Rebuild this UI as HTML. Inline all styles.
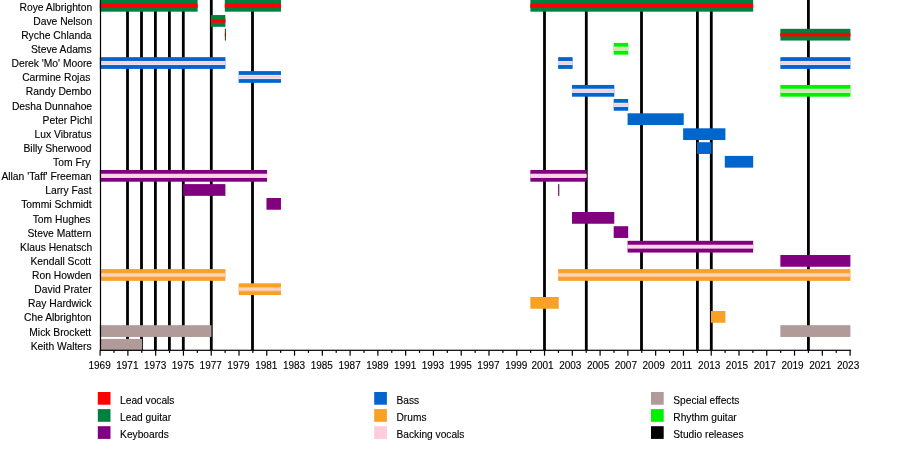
<!DOCTYPE html><html><head><meta charset="utf-8"><style>html,body{margin:0;padding:0;background:#fff;width:900px;height:450px;overflow:hidden}svg{display:block;will-change:transform}text{font-family:"Liberation Sans",sans-serif;font-size:10px;fill:#000;stroke:#000;stroke-width:0.12px}</style></head><body>
<svg width="900" height="450" viewBox="0 0 900 450">
<rect x="0" y="0" width="900" height="450" fill="#fff"/>
<rect x="126.10" y="0" width="2.8" height="350.30" fill="#000"/>
<rect x="140.10" y="0" width="2.8" height="350.30" fill="#000"/>
<rect x="154.00" y="0" width="2.8" height="350.30" fill="#000"/>
<rect x="168.00" y="0" width="2.8" height="350.30" fill="#000"/>
<rect x="181.90" y="0" width="2.8" height="350.30" fill="#000"/>
<rect x="209.90" y="0" width="2.8" height="350.30" fill="#000"/>
<rect x="251.10" y="0" width="2.8" height="350.30" fill="#000"/>
<rect x="543.10" y="0" width="2.8" height="350.30" fill="#000"/>
<rect x="584.90" y="0" width="2.8" height="350.30" fill="#000"/>
<rect x="640.10" y="0" width="2.8" height="350.30" fill="#000"/>
<rect x="696.00" y="0" width="2.8" height="350.30" fill="#000"/>
<rect x="709.90" y="0" width="2.8" height="350.30" fill="#000"/>
<rect x="807.00" y="0" width="2.8" height="350.30" fill="#000"/>
<rect x="99.80" y="0.00" width="97.82" height="11.67" fill="#00803f"/>
<rect x="99.80" y="3.73" width="97.82" height="4.2" fill="#ff0000"/>
<rect x="224.80" y="0.00" width="56.16" height="11.67" fill="#00803f"/>
<rect x="224.80" y="3.73" width="56.16" height="4.2" fill="#ff0000"/>
<rect x="530.36" y="0.00" width="222.82" height="11.67" fill="#00803f"/>
<rect x="530.36" y="3.73" width="222.82" height="4.2" fill="#ff0000"/>
<rect x="210.91" y="15.05" width="14.49" height="11.75" fill="#00803f"/>
<rect x="210.91" y="19.12" width="14.49" height="3.6" fill="#ff0000"/>
<rect x="224.85" y="28.80" width="1.10" height="11.75" fill="#006030"/>
<rect x="224.85" y="32.88" width="1.10" height="3.6" fill="#c00000"/>
<rect x="780.36" y="28.80" width="70.04" height="11.75" fill="#00803f"/>
<rect x="780.36" y="32.88" width="70.04" height="3.6" fill="#ff0000"/>
<rect x="613.69" y="42.90" width="14.49" height="11.75" fill="#00f000"/>
<rect x="613.69" y="46.67" width="14.49" height="4.2" fill="#c8ffb8"/>
<rect x="613.69" y="47.67" width="14.49" height="2.2" fill="#ead8b8"/>
<rect x="99.80" y="57.15" width="125.60" height="11.75" fill="#0066cc"/>
<rect x="99.80" y="61.02" width="125.60" height="4.0" fill="#e2e6fb"/>
<rect x="99.80" y="61.92" width="125.60" height="2.2" fill="#f8d0dc"/>
<rect x="558.13" y="57.15" width="14.49" height="11.75" fill="#0066cc"/>
<rect x="558.13" y="61.02" width="14.49" height="4.0" fill="#e2e6fb"/>
<rect x="558.13" y="61.92" width="14.49" height="2.2" fill="#f8d0dc"/>
<rect x="780.36" y="57.15" width="70.04" height="11.75" fill="#0066cc"/>
<rect x="780.36" y="61.02" width="70.04" height="4.0" fill="#e2e6fb"/>
<rect x="780.36" y="61.92" width="70.04" height="2.2" fill="#f8d0dc"/>
<rect x="238.69" y="71.10" width="42.27" height="11.75" fill="#0066cc"/>
<rect x="238.69" y="74.88" width="42.27" height="4.2" fill="#e2e6fb"/>
<rect x="238.69" y="75.88" width="42.27" height="2.2" fill="#f8d0dc"/>
<rect x="572.02" y="84.95" width="42.27" height="11.75" fill="#0066cc"/>
<rect x="572.02" y="88.73" width="42.27" height="4.2" fill="#e2e6fb"/>
<rect x="572.02" y="89.73" width="42.27" height="2.2" fill="#f8d0dc"/>
<rect x="780.36" y="84.95" width="70.04" height="11.75" fill="#00f000"/>
<rect x="780.36" y="88.73" width="70.04" height="4.2" fill="#c8ffb8"/>
<rect x="780.36" y="89.73" width="70.04" height="2.2" fill="#ead8b8"/>
<rect x="613.69" y="99.00" width="14.49" height="11.75" fill="#0066cc"/>
<rect x="613.69" y="102.78" width="14.49" height="4.2" fill="#e2e6fb"/>
<rect x="613.69" y="103.78" width="14.49" height="2.2" fill="#f8d0dc"/>
<rect x="627.58" y="113.30" width="56.16" height="11.75" fill="#0066cc"/>
<rect x="683.13" y="128.30" width="42.27" height="11.75" fill="#0066cc"/>
<rect x="697.02" y="142.20" width="14.49" height="11.75" fill="#0066cc"/>
<rect x="724.80" y="155.90" width="28.38" height="11.75" fill="#0066cc"/>
<rect x="99.80" y="169.96" width="167.27" height="11.75" fill="#800080"/>
<rect x="99.80" y="173.74" width="167.27" height="4.2" fill="#ffd2f5"/>
<rect x="99.80" y="174.74" width="167.27" height="2.2" fill="#ffd4e2"/>
<rect x="530.36" y="169.96" width="56.16" height="11.75" fill="#800080"/>
<rect x="530.36" y="173.74" width="56.16" height="4.2" fill="#ffd2f5"/>
<rect x="530.36" y="174.74" width="56.16" height="2.2" fill="#ffd4e2"/>
<rect x="183.13" y="184.10" width="42.27" height="11.75" fill="#800080"/>
<rect x="558.18" y="184.10" width="1.10" height="11.75" fill="#5c005c"/>
<rect x="266.47" y="198.00" width="14.49" height="11.75" fill="#800080"/>
<rect x="572.02" y="212.00" width="42.27" height="11.75" fill="#800080"/>
<rect x="613.69" y="226.20" width="14.49" height="11.75" fill="#800080"/>
<rect x="627.58" y="240.80" width="125.60" height="11.75" fill="#800080"/>
<rect x="627.58" y="244.73" width="125.60" height="3.9" fill="#ffd2f5"/>
<rect x="627.58" y="245.58" width="125.60" height="2.2" fill="#ffd4e2"/>
<rect x="780.36" y="255.00" width="70.04" height="11.75" fill="#800080"/>
<rect x="99.80" y="269.10" width="125.60" height="11.75" fill="#f9a027"/>
<rect x="99.80" y="272.88" width="125.60" height="4.2" fill="#fbc48c"/>
<rect x="99.80" y="273.88" width="125.60" height="2.2" fill="#ffd2c6"/>
<rect x="558.13" y="269.10" width="292.27" height="11.75" fill="#f9a027"/>
<rect x="558.13" y="272.88" width="292.27" height="4.2" fill="#fbc48c"/>
<rect x="558.13" y="273.88" width="292.27" height="2.2" fill="#ffd2c6"/>
<rect x="238.69" y="283.30" width="42.27" height="11.75" fill="#f9a027"/>
<rect x="238.69" y="287.07" width="42.27" height="4.2" fill="#fbc48c"/>
<rect x="238.69" y="288.07" width="42.27" height="2.2" fill="#ffd2c6"/>
<rect x="530.36" y="297.00" width="28.38" height="11.75" fill="#f9a027"/>
<rect x="710.91" y="311.00" width="14.49" height="11.75" fill="#f9a027"/>
<rect x="99.80" y="325.20" width="111.71" height="11.75" fill="#b09a9a"/>
<rect x="780.36" y="325.20" width="70.04" height="11.75" fill="#b09a9a"/>
<rect x="99.80" y="338.90" width="42.27" height="11.75" fill="#b09a9a"/>
<rect x="99.9" y="0" width="1.2" height="350.90" fill="#000"/>
<rect x="99.9" y="349.70" width="751.20" height="1.2" fill="#000"/>
<rect x="99.50" y="350.30" width="1.2" height="5.4" fill="#000"/>
<text x="99.60" y="369" text-anchor="middle">1969</text>
<rect x="113.39" y="350.30" width="1.2" height="2.6" fill="#000"/>
<rect x="127.28" y="350.30" width="1.2" height="5.4" fill="#000"/>
<text x="127.38" y="369" text-anchor="middle">1971</text>
<rect x="141.17" y="350.30" width="1.2" height="2.6" fill="#000"/>
<rect x="155.06" y="350.30" width="1.2" height="5.4" fill="#000"/>
<text x="155.16" y="369" text-anchor="middle">1973</text>
<rect x="168.94" y="350.30" width="1.2" height="2.6" fill="#000"/>
<rect x="182.83" y="350.30" width="1.2" height="5.4" fill="#000"/>
<text x="182.93" y="369" text-anchor="middle">1975</text>
<rect x="196.72" y="350.30" width="1.2" height="2.6" fill="#000"/>
<rect x="210.61" y="350.30" width="1.2" height="5.4" fill="#000"/>
<text x="210.71" y="369" text-anchor="middle">1977</text>
<rect x="224.50" y="350.30" width="1.2" height="2.6" fill="#000"/>
<rect x="238.39" y="350.30" width="1.2" height="5.4" fill="#000"/>
<text x="238.49" y="369" text-anchor="middle">1979</text>
<rect x="252.28" y="350.30" width="1.2" height="2.6" fill="#000"/>
<rect x="266.17" y="350.30" width="1.2" height="5.4" fill="#000"/>
<text x="266.27" y="369" text-anchor="middle">1981</text>
<rect x="280.06" y="350.30" width="1.2" height="2.6" fill="#000"/>
<rect x="293.94" y="350.30" width="1.2" height="5.4" fill="#000"/>
<text x="294.04" y="369" text-anchor="middle">1983</text>
<rect x="307.83" y="350.30" width="1.2" height="2.6" fill="#000"/>
<rect x="321.72" y="350.30" width="1.2" height="5.4" fill="#000"/>
<text x="321.82" y="369" text-anchor="middle">1985</text>
<rect x="335.61" y="350.30" width="1.2" height="2.6" fill="#000"/>
<rect x="349.50" y="350.30" width="1.2" height="5.4" fill="#000"/>
<text x="349.60" y="369" text-anchor="middle">1987</text>
<rect x="363.39" y="350.30" width="1.2" height="2.6" fill="#000"/>
<rect x="377.28" y="350.30" width="1.2" height="5.4" fill="#000"/>
<text x="377.38" y="369" text-anchor="middle">1989</text>
<rect x="391.17" y="350.30" width="1.2" height="2.6" fill="#000"/>
<rect x="405.06" y="350.30" width="1.2" height="5.4" fill="#000"/>
<text x="405.16" y="369" text-anchor="middle">1991</text>
<rect x="418.94" y="350.30" width="1.2" height="2.6" fill="#000"/>
<rect x="432.83" y="350.30" width="1.2" height="5.4" fill="#000"/>
<text x="432.93" y="369" text-anchor="middle">1993</text>
<rect x="446.72" y="350.30" width="1.2" height="2.6" fill="#000"/>
<rect x="460.61" y="350.30" width="1.2" height="5.4" fill="#000"/>
<text x="460.71" y="369" text-anchor="middle">1995</text>
<rect x="474.50" y="350.30" width="1.2" height="2.6" fill="#000"/>
<rect x="488.39" y="350.30" width="1.2" height="5.4" fill="#000"/>
<text x="488.49" y="369" text-anchor="middle">1997</text>
<rect x="502.28" y="350.30" width="1.2" height="2.6" fill="#000"/>
<rect x="516.17" y="350.30" width="1.2" height="5.4" fill="#000"/>
<text x="516.27" y="369" text-anchor="middle">1999</text>
<rect x="530.06" y="350.30" width="1.2" height="2.6" fill="#000"/>
<rect x="543.94" y="350.30" width="1.2" height="5.4" fill="#000"/>
<text x="542.54" y="369" text-anchor="middle">2001</text>
<rect x="557.83" y="350.30" width="1.2" height="2.6" fill="#000"/>
<rect x="571.72" y="350.30" width="1.2" height="5.4" fill="#000"/>
<text x="570.32" y="369" text-anchor="middle">2003</text>
<rect x="585.61" y="350.30" width="1.2" height="2.6" fill="#000"/>
<rect x="599.50" y="350.30" width="1.2" height="5.4" fill="#000"/>
<text x="598.10" y="369" text-anchor="middle">2005</text>
<rect x="613.39" y="350.30" width="1.2" height="2.6" fill="#000"/>
<rect x="627.28" y="350.30" width="1.2" height="5.4" fill="#000"/>
<text x="625.88" y="369" text-anchor="middle">2007</text>
<rect x="641.17" y="350.30" width="1.2" height="2.6" fill="#000"/>
<rect x="655.06" y="350.30" width="1.2" height="5.4" fill="#000"/>
<text x="653.66" y="369" text-anchor="middle">2009</text>
<rect x="668.94" y="350.30" width="1.2" height="2.6" fill="#000"/>
<rect x="682.83" y="350.30" width="1.2" height="5.4" fill="#000"/>
<text x="681.43" y="369" text-anchor="middle">2011</text>
<rect x="696.72" y="350.30" width="1.2" height="2.6" fill="#000"/>
<rect x="710.61" y="350.30" width="1.2" height="5.4" fill="#000"/>
<text x="709.21" y="369" text-anchor="middle">2013</text>
<rect x="724.50" y="350.30" width="1.2" height="2.6" fill="#000"/>
<rect x="738.39" y="350.30" width="1.2" height="5.4" fill="#000"/>
<text x="736.99" y="369" text-anchor="middle">2015</text>
<rect x="752.28" y="350.30" width="1.2" height="2.6" fill="#000"/>
<rect x="766.17" y="350.30" width="1.2" height="5.4" fill="#000"/>
<text x="764.77" y="369" text-anchor="middle">2017</text>
<rect x="780.06" y="350.30" width="1.2" height="2.6" fill="#000"/>
<rect x="793.94" y="350.30" width="1.2" height="5.4" fill="#000"/>
<text x="792.54" y="369" text-anchor="middle">2019</text>
<rect x="807.83" y="350.30" width="1.2" height="2.6" fill="#000"/>
<rect x="821.72" y="350.30" width="1.2" height="5.4" fill="#000"/>
<text x="820.32" y="369" text-anchor="middle">2021</text>
<rect x="835.61" y="350.30" width="1.2" height="2.6" fill="#000"/>
<rect x="849.50" y="350.30" width="1.2" height="5.4" fill="#000"/>
<text x="848.10" y="369" text-anchor="middle">2023</text>
<text x="92.20" y="11.00" text-anchor="end" style="font-size:10.3px">Roye Albrighton</text>
<text x="92.20" y="25.00" text-anchor="end" style="font-size:10.3px">Dave Nelson</text>
<text x="91.60" y="39.00" text-anchor="end" style="font-size:10.3px">Ryche Chlanda</text>
<text x="91.60" y="53.00" text-anchor="end" style="font-size:10.3px">Steve Adams</text>
<text x="92.10" y="67.00" text-anchor="end" style="font-size:10.3px">Derek &#39;Mo&#39; Moore</text>
<text x="90.30" y="81.00" text-anchor="end" style="font-size:10.3px">Carmine Rojas</text>
<text x="91.60" y="95.00" text-anchor="end" style="font-size:10.3px">Randy Dembo</text>
<text x="92.10" y="110.00" text-anchor="end" style="font-size:10.3px">Desha Dunnahoe</text>
<text x="92.40" y="124.00" text-anchor="end" style="font-size:10.3px">Peter Pichl</text>
<text x="91.60" y="138.00" text-anchor="end" style="font-size:10.3px">Lux Vibratus</text>
<text x="91.60" y="152.00" text-anchor="end" style="font-size:10.3px">Billy Sherwood</text>
<text x="90.30" y="166.00" text-anchor="end" style="font-size:10.3px">Tom Fry</text>
<text x="91.60" y="180.00" text-anchor="end" style="font-size:10.3px">Allan &#39;Taff&#39; Freeman</text>
<text x="91.60" y="194.00" text-anchor="end" style="font-size:10.3px">Larry Fast</text>
<text x="91.60" y="208.00" text-anchor="end" style="font-size:10.3px">Tommi Schmidt</text>
<text x="90.50" y="223.00" text-anchor="end" style="font-size:10.3px">Tom Hughes</text>
<text x="91.60" y="237.00" text-anchor="end" style="font-size:10.3px">Steve Mattern</text>
<text x="92.20" y="251.00" text-anchor="end" style="font-size:10.3px">Klaus Henatsch</text>
<text x="91.10" y="265.00" text-anchor="end" style="font-size:10.3px">Kendall Scott</text>
<text x="91.60" y="279.00" text-anchor="end" style="font-size:10.3px">Ron Howden</text>
<text x="91.60" y="293.00" text-anchor="end" style="font-size:10.3px">David Prater</text>
<text x="91.60" y="307.00" text-anchor="end" style="font-size:10.3px">Ray Hardwick</text>
<text x="91.60" y="321.00" text-anchor="end" style="font-size:10.3px">Che Albrighton</text>
<text x="91.10" y="336.00" text-anchor="end" style="font-size:10.3px">Mick Brockett</text>
<text x="91.60" y="350.00" text-anchor="end" style="font-size:10.3px">Keith Walters</text>
<rect x="97.80" y="392.00" width="12.7" height="12.7" fill="#ff0000"/>
<text x="120.10" y="404.00" style="font-size:10.2px">Lead vocals</text>
<rect x="97.80" y="409.10" width="12.7" height="12.7" fill="#00803f"/>
<text x="120.10" y="421.10" style="font-size:10.2px">Lead guitar</text>
<rect x="97.80" y="426.20" width="12.7" height="12.7" fill="#800080"/>
<text x="120.10" y="438.20" style="font-size:10.2px">Keyboards</text>
<rect x="374.20" y="392.00" width="12.7" height="12.7" fill="#0066cc"/>
<text x="396.50" y="404.00" style="font-size:10.2px">Bass</text>
<rect x="374.20" y="409.10" width="12.7" height="12.7" fill="#f9a027"/>
<text x="396.50" y="421.10" style="font-size:10.2px">Drums</text>
<rect x="374.20" y="426.20" width="12.7" height="12.7" fill="#ffccd9"/>
<text x="396.50" y="438.20" style="font-size:10.2px">Backing vocals</text>
<rect x="651.00" y="392.00" width="12.7" height="12.7" fill="#b09a9a"/>
<text x="673.30" y="404.00" style="font-size:10.2px">Special effects</text>
<rect x="651.00" y="409.10" width="12.7" height="12.7" fill="#00f000"/>
<text x="673.30" y="421.10" style="font-size:10.2px">Rhythm guitar</text>
<rect x="651.00" y="426.20" width="12.7" height="12.7" fill="#000000"/>
<text x="673.30" y="438.20" style="font-size:10.2px">Studio releases</text>
</svg></body></html>
